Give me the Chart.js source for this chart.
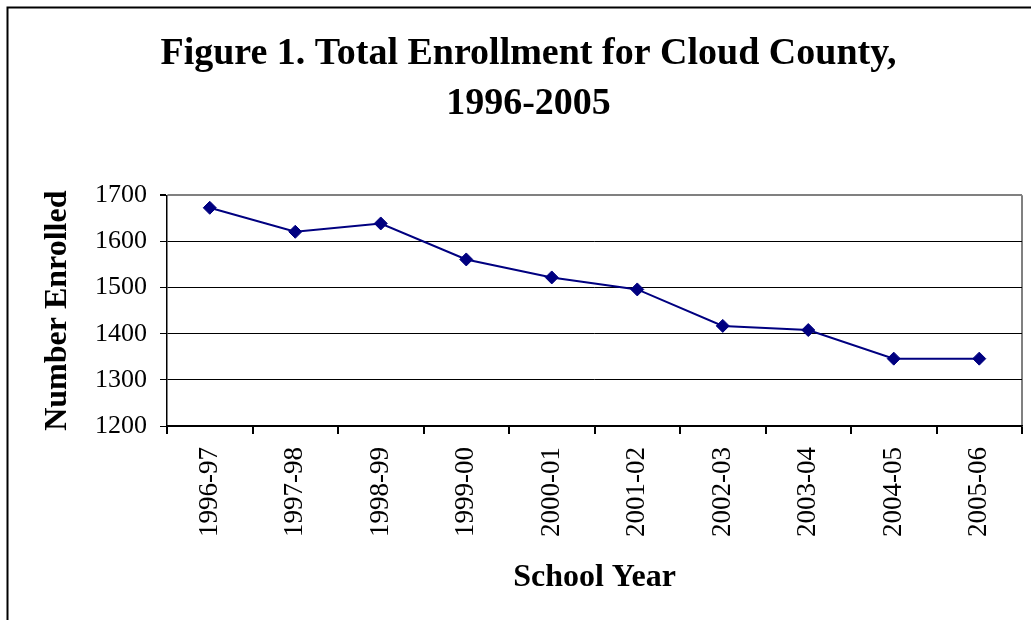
<!DOCTYPE html>
<html>
<head>
<meta charset="utf-8">
<script src="https://cdn.jsdelivr.net/npm/chart.js@4/dist/chart.umd.min.js"></script>
<style>
  html, body { margin: 0; padding: 0; background: #fff; }
  #wrap { position: relative; width: 1031px; height: 620px; }
</style>
</head>
<body>
<div id="wrap"><canvas id="myChart" width="1031" height="620"></canvas></div>
<script>
// School years on the x axis
const schoolYears = ['1996-97', '1997-98', '1998-99', '1999-00', '2000-01',
    '2001-02', '2002-03', '2003-04', '2004-05', '2005-06'];
// Total enrollment
const enrollment = [1673, 1621, 1639, 1561, 1522, 1496, 1417, 1408, 1346, 1346];
// Y axis range
const yMin = 1200;
const yMax = 1700;
const yStep = 100;

const serif = '"Liberation Serif", "Times New Roman", serif';

// outer frame of the picture (only top and left edges are visible)
const framePlugin = {
    id: 'frame',
    beforeDraw(chart) {
        const ctx = chart.ctx;
        ctx.save();
        ctx.fillStyle = '#fff';
        ctx.fillRect(0, 0, chart.width, chart.height);
        ctx.strokeStyle = '#000';
        ctx.lineWidth = 2;
        ctx.beginPath();
        ctx.moveTo(7.5, chart.height);
        ctx.lineTo(7.5, 7.5);
        ctx.lineTo(chart.width, 7.5);
        ctx.stroke();
        ctx.restore();
    }
};

const ctx = document.getElementById('myChart').getContext('2d');
new Chart(ctx, {
    type: 'line',
    data: {
        labels: schoolYears,
        datasets: [{
            label: 'Total Enrollment',
            data: enrollment,
            borderColor: '#000080',
            backgroundColor: '#000080',
            borderWidth: 2,
            pointStyle: 'rectRot',
            pointRadius: 6.5,
            pointBorderWidth: 1,
            fill: false,
            tension: 0
        }]
    },
    options: {
        responsive: false,
        animation: false,
        layout: { padding: { left: 35, right: 9, top: 0, bottom: 19 } },
        plugins: {
            legend: { display: false },
            tooltip: { enabled: false },
            title: {
                display: true,
                text: ['Figure 1. Total Enrollment for Cloud County,', '1996-2005'],
                color: '#000',
                font: { family: serif, size: 38, weight: 'bold', lineHeight: 1.32 },
                padding: { top: 29, bottom: 66 }
            }
        },
        scales: {
            x: {
                offset: true,
                grid: {
                    offset: true,
                    drawTicks: true,
                    tickLength: 8,
                    tickColor: '#000',
                    color: (c) => c.type !== 'tick' ? '#808080' : 'rgba(0,0,0,0)',
                    lineWidth: 2
                },
                border: { display: true, color: '#000', width: 1.5 },
                ticks: {
                    color: '#000',
                    font: { family: serif, size: 27 },
                    minRotation: 90,
                    maxRotation: 90,
                    padding: 13,
                    autoSkip: false
                },
                title: {
                    display: true,
                    text: 'School Year',
                    color: '#000',
                    font: { family: serif, size: 32, weight: 'bold' }
                },
                afterFit(scale) { scale.height = 175; }
            },
            y: {
                min: yMin,
                max: yMax,
                ticks: {
                    stepSize: yStep,
                    color: '#000',
                    font: { family: serif, size: 26 },
                    padding: 13,
                    callback: (v) => String(v)
                },
                grid: {
                    drawTicks: true,
                    tickLength: 7,
                    tickColor: '#000',
                    color: (c) => c.tick && c.tick.value === yMax ? '#808080' : '#000',
                    lineWidth: (c) => c.tick && c.tick.value === yMax ? 2 : 1
                },
                border: { display: true, color: '#000', width: 1.5 },
                title: {
                    display: true,
                    text: 'Number Enrolled',
                    color: '#000',
                    font: { family: serif, size: 32, weight: 'bold' }
                },
                afterFit(scale) { scale.width = 132; }
            }
        }
    },
    plugins: [framePlugin]
});
</script>
</body>
</html>
